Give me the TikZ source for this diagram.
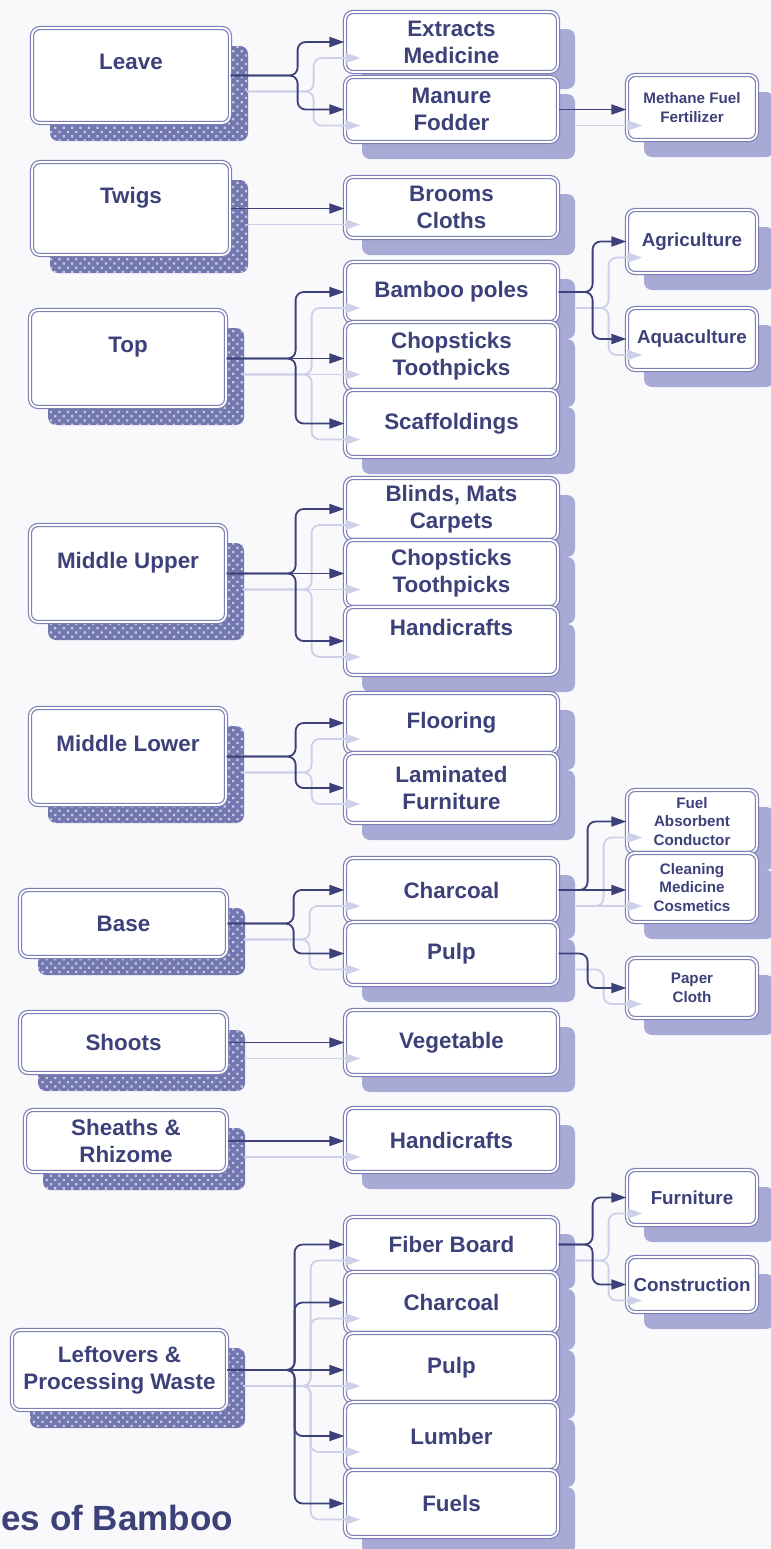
\documentclass[tikz,border=0pt]{standalone}
\usepackage{fontspec}
\setmainfont{Liberation Sans}
\usetikzlibrary{arrows.meta}
\usetikzlibrary{shadows}
\usetikzlibrary{patterns.meta}

\definecolor{navy}{HTML}{3D4179}
\definecolor{boxline}{HTML}{7C80B6}
\definecolor{shadowblue}{HTML}{A7AAD5}
\definecolor{hatchbase}{HTML}{7277AF}
\definecolor{hatchdot}{HTML}{C6C9E6}
\definecolor{ghostblue}{HTML}{CDD0E8}
\definecolor{paper}{HTML}{F9F9FC}

\begin{document}
\begin{tikzpicture}[x=0.5pt,y=-0.5pt,
    card/.style={rectangle,rounded corners=4pt,draw=boxline,double=white,
        double distance=0.9pt,line width=0.6pt,fill=white,inner sep=0pt,
        align=center,text=navy,font=\fontsize{11.2}{13.5}\selectfont\bfseries},
    leftcard/.style={card,
        general shadow={shadow xshift=9pt,shadow yshift=-9pt,fill=hatchbase},
        general shadow={shadow xshift=9pt,shadow yshift=-9pt,
            pattern={Dots[distance=3pt,radius=0.8pt,angle=45]},pattern color=hatchdot}},
    midcard/.style={card,minimum width=106.5pt,
        drop shadow={shadow xshift=8.5pt,shadow yshift=-8.5pt,fill=shadowblue,opacity=1}},
    endcard/.style={midcard,minimum width=65pt},
    medtext/.style={font=\fontsize{9.4}{11}\selectfont\bfseries},
    smalltext/.style={font=\fontsize{7.6}{9.2}\selectfont\bfseries},
    link/.style={line width=0.9pt,rounded corners=4pt,-{Triangle[length=7.5pt,width=5pt]}}]
    \useasboundingbox[fill=paper] (0,0) rectangle (771,1549);

    % parts of the plant
    \node[leftcard,minimum width=99pt,minimum height=47.5pt] (leave) at (131,75.5) {Leave\\~};
    \node[leftcard,minimum width=99pt,minimum height=46.5pt] (twigs) at (131,208.5) {Twigs\\~};
    \node[leftcard,minimum width=98pt,minimum height=48.5pt] (top) at (128,358.5) {Top\\~};
    \node[leftcard,minimum width=98pt,minimum height=48.5pt] (midup) at (128,573.5) {Middle Upper\\~};
    \node[leftcard,minimum width=98pt,minimum height=48.5pt] (midlow) at (128,756.5) {Middle Lower\\~};
    \node[leftcard,minimum width=103.5pt,minimum height=33.5pt] (base) at (123.5,923.5) {Base};
    \node[leftcard,minimum width=103.5pt,minimum height=30.5pt] (shoots) at (123.5,1042.5) {Shoots};
    \node[leftcard,minimum width=101pt,minimum height=31pt] (sheaths) at (126,1141) {Sheaths \&\\Rhizome};
    \node[leftcard,minimum width=107.5pt,minimum height=40pt] (leftover) at (119.5,1370) {Leftovers \&\\Processing Waste};

    % products
    \foreach \nm/\yc/\hh/\txt in {extract/42/30/{Extracts\\Medicine},manure/109.5/32.5/{Manure\\Fodder},
        brooms/207.5/30.5/{Brooms\\Cloths},poles/292/30/{Bamboo poles},chopA/356/34/{Chopsticks\\Toothpicks},
        scaff/423.5/33.5/{Scaffoldings},blinds/509/31/{Blinds, Mats\\Carpets},chopB/573.5/33.5/{Chopsticks\\Toothpicks},
        handA/641/34/{Handicrafts\\~},floor/723/30/{Flooring},lamin/788/35/{Laminated\\Furniture},
        charA/890/32/{Charcoal},pulpA/953.5/31.5/{Pulp},veg/1042.5/32.5/{Vegetable},handB/1140/32/{Handicrafts},
        fiber/1244.5/27.5/{Fiber Board},charB/1302.5/30.5/{Charcoal},pulpB/1367.5/34.5/{Pulp},
        lumber/1436/34/{Lumber},fuels/1503.5/33.5/{Fuels}}
        \node[midcard,minimum height=\hh pt] (\nm) at (451.5,\yc) {\txt};

    % end uses
    \node[endcard,smalltext,minimum height=32.5pt] (methane) at (692,107.5) {Methane Fuel\\Fertilizer};
    \node[endcard,medtext,minimum height=31.5pt] (agri) at (692,241.5) {Agriculture};
    \node[endcard,medtext,minimum height=31pt] (aqua) at (692,339) {Aquaculture};
    \node[endcard,smalltext,minimum height=31.5pt] (fuel) at (692,821.5) {Fuel\\Absorbent\\Conductor};
    \node[endcard,smalltext,minimum height=34.5pt] (clean) at (692,887.5) {Cleaning\\Medicine\\Cosmetics};
    \node[endcard,smalltext,minimum height=30pt] (paper) at (692,988) {Paper\\Cloth};
    \node[endcard,medtext,minimum height=27.5pt] (furn) at (692,1197.5) {Furniture};
    \node[endcard,medtext,minimum height=27.5pt] (constr) at (692,1284.5) {Construction};

    \node[anchor=base west,inner sep=0pt,text=navy,font=\fontsize{17.5}{21}\selectfont\bfseries] (title) at (1,1530) {es of Bamboo};

    % connectors, first their pale shadow then the lines
    \foreach \dd/\col in {8pt/ghostblue,0pt/navy}{
    \begin{scope}[transform canvas={shift={(\dd,-\dd)}},link/.append style={draw=\col}]
        \foreach \tgt in {extract,manure} \draw[link] (leave.east) -- ++(67,0) |- (\tgt.west);
        \draw[link] (manure.east) -- (manure.east -| methane.west);
        \draw[link] (twigs.east) -- (twigs.east -| brooms.west);
        \foreach \tgt in {poles,scaff} \draw[link] (top.east) -- ++(69,0) |- (\tgt.west);
        \draw[link] (top.east) -- (top.east -| chopA.west);
        \foreach \tgt in {agri,aqua} \draw[link] (poles.east) -- ++(34,0) |- (\tgt.west);
        \foreach \tgt in {blinds,handA} \draw[link] (midup.east) -- ++(69,0) |- (\tgt.west);
        \draw[link] (midup.east) -- (midup.east -| chopB.west);
        \foreach \tgt in {floor,lamin} \draw[link] (midlow.east) -- ++(69,0) |- (\tgt.west);
        \foreach \tgt in {charA,pulpA} \draw[link] (base.east) -- ++(66,0) |- (\tgt.west);
        \draw[link] (charA.east) -- ++(29,0) |- (fuel.west);
        \draw[link] (charA.east) -- (charA.east -| clean.west);
        \draw[link] (pulpA.east) -- ++(29,0) |- (paper.west);
        \draw[link] (shoots.east) -- (shoots.east -| veg.west);
        \draw[link] (sheaths.east) -- (sheaths.east -| handB.west);
        \foreach \tgt in {fiber,charB,lumber,fuels} \draw[link] (leftover.east) -- ++(67,0) |- (\tgt.west);
        \draw[link] (leftover.east) -- (leftover.east -| pulpB.west);
        \foreach \tgt in {furn,constr} \draw[link] (fiber.east) -- ++(34,0) |- (\tgt.west);
    \end{scope}}
\end{tikzpicture}
\end{document}
